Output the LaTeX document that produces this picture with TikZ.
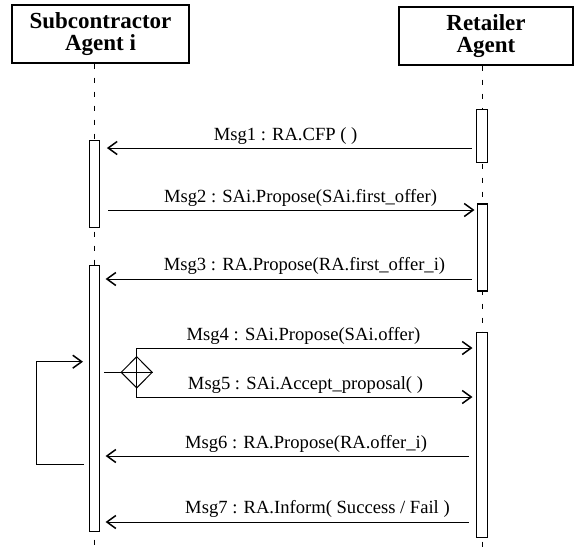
\documentclass[tikz,border=0pt]{standalone}
\usepackage{fontspec}
\setmainfont{Liberation Serif}
\usetikzlibrary{arrows.meta,shapes.geometric,calc}
\begin{document}
\begin{tikzpicture}[x=1pt,y=-1pt,
  head/.style={draw,line width=1.3pt,minimum height=58pt,inner sep=0pt,align=center,
    font=\fontsize{23}{22.5}\selectfont\bfseries},
  bar/.style={draw,line width=1.1pt,fill=white,minimum width=10.5pt,inner sep=0pt},
  life/.style={line width=1pt,dash pattern=on 5pt off 9pt},
  msg/.style={line width=1pt,-{Straight Barb[length=9pt,width=13pt,line width=1.5pt]}},
  lbl/.style={inner sep=0pt,anchor=base,font=\fontsize{18.6}{20}\selectfont},
  dia/.style={diamond,draw,line width=1pt,minimum width=31.4pt,minimum height=31.6pt,inner sep=0pt}]
\useasboundingbox (0,0) rectangle (574,547);
% heads
\node[head,minimum width=177pt] (sa) at (100.5,34) {Subcontractor\\Agent i};
\node[head,minimum width=174pt] (ra) at (486,36) {Retailer\\Agent};
% y levels
\coordinate (bot) at (0,547);
\coordinate (y1) at (0,148);
\coordinate (y2) at (0,210);
\coordinate (y3) at (0,279);
\coordinate (y4) at (0,348);
\coordinate (y5) at (0,397);
\coordinate (y6) at (0,456);
\coordinate (y7) at (0,522);
% lifelines
\coordinate (ll) at (94.4,0);
\coordinate (rl) at (482,0);
\draw[life] (sa.south -| ll) -- (ll |- bot);
\draw[life] (ra.south -| rl) -- (rl |- bot);
% activation bars
\node[bar,minimum height=87pt] (L1) at (94.6,184.2) {};
\node[bar,minimum height=266pt] (L2) at (94.3,398.7) {};
\node[bar,minimum height=53.4pt] (R1) at (481.8,136) {};
\node[bar,minimum height=87pt] (R2) at (482.3,247.5) {};
\node[bar,minimum height=205pt] (R3) at (481.8,434.8) {};
% messages
\draw[msg] ([xshift=-4.5pt]R1.west |- y1) -- ([xshift=6.5pt]L1.east |- y1);
\node[lbl] (t1) at (285.6,140) {Msg1 : RA.CFP ( )};
\draw[msg] ([xshift=8pt]L1.east |- y2) -- ([xshift=-2pt]R2.west |- y2);
\node[lbl] (t2) at (300.5,202) {Msg2 : SAi.Propose(SAi.first\_offer)};
\draw[msg] ([xshift=-5pt]R2.west |- y3) -- ([xshift=5.5pt]L2.east |- y3);
\node[lbl] (t3) at (304.5,270) {Msg3 : RA.Propose(RA.first\_offer\_i)};
% alternative (diamond)
\node[dia] (D) at (136.7,372.3) {};
\draw[line width=1pt] ([xshift=4pt]L2.east |- D.center) -- (D.east);
\draw[msg] (D.center) |- ([xshift=-3.5pt]R3.west |- y4);
\draw[msg] (D.center) |- ([xshift=-3.5pt]R3.west |- y5);
\node[lbl] (t4) at (303.5,340) {Msg4 : SAi.Propose(SAi.offer)};
\node[lbl] (t5) at (305.5,389) {Msg5 : SAi.Accept\_proposal( )};
\draw[msg] ([xshift=-7.5pt]R3.west |- y6) -- ([xshift=5.5pt]L2.east |- y6);
\node[lbl] (t6) at (306,448) {Msg6 : RA.Propose(RA.offer\_i)};
\draw[msg] ([xshift=-7.5pt]R3.west |- y7) -- ([xshift=5.5pt]L2.east |- y7);
\node[lbl] (t7) at (317.5,513) {Msg7 : RA.Inform( Success / Fail )};
% loop back
\coordinate (lpa) at ([xshift=-4.5pt]L2.west |- 0,464);
\coordinate (lpc) at (36,361.7);
\coordinate (lpd) at ([xshift=-5.5pt]L2.west |- lpc);
\draw[msg] (lpa) -| (lpc) -- (lpd);
\end{tikzpicture}
\end{document}
